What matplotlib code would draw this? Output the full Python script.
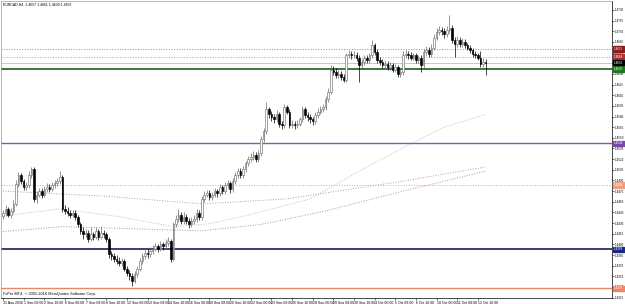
import numpy as np
import matplotlib.pyplot as plt
from matplotlib import transforms

plt.rcParams['font.family'] = ['Liberation Sans Narrow', 'Liberation Sans', 'DejaVu Sans']

# EURCAD H4 candles, 31 Aug - 12 Oct 2016
first_open = 1.4440
closes = [
    1.4444, 1.4450, 1.4442, 1.4447, 1.4457, 1.4485, 1.4498, 1.4489, 1.4481, 1.4484,
    1.4498, 1.4506, 1.4464, 1.4470, 1.4475, 1.4470, 1.4478, 1.4481, 1.4478, 1.4484,
    1.4486, 1.4489, 1.4495, 1.4450, 1.4447, 1.4444, 1.4442, 1.4444, 1.4439, 1.4428,
    1.4419, 1.4414, 1.4416, 1.4408, 1.4414, 1.4411, 1.4419, 1.4411, 1.4416, 1.4414,
    1.4408, 1.4386, 1.4383, 1.4380, 1.4377, 1.4374, 1.4377, 1.4366, 1.4360, 1.4355,
    1.4349, 1.4358, 1.4366, 1.4377, 1.4383, 1.4388, 1.4386, 1.4391, 1.4394, 1.4397,
    1.4394, 1.4400, 1.4397, 1.4402, 1.4405, 1.4380, 1.4428, 1.4436, 1.4442, 1.4433,
    1.4439, 1.4433, 1.4428, 1.4433, 1.4436, 1.4444, 1.4439, 1.4464, 1.4470, 1.4472,
    1.4467, 1.4470, 1.4475, 1.4472, 1.4481, 1.4475, 1.4484, 1.4486, 1.4478, 1.4489,
    1.4498, 1.4503, 1.4498, 1.4506, 1.4514, 1.4520, 1.4523, 1.4526, 1.4520, 1.4528,
    1.4548, 1.4559, 1.4590, 1.4584, 1.4579, 1.4576, 1.4584, 1.4570, 1.4568, 1.4593,
    1.4587, 1.4568, 1.4570, 1.4568, 1.4570, 1.4576, 1.4590, 1.4582, 1.4579, 1.4576,
    1.4573, 1.4582, 1.4587, 1.4590, 1.4593, 1.4604, 1.4615, 1.4646, 1.4643, 1.4638,
    1.4640, 1.4635, 1.4632, 1.4666, 1.4668, 1.4666, 1.4667, 1.4663, 1.4652, 1.4657,
    1.4663, 1.4660, 1.4666, 1.4680, 1.4671, 1.4660, 1.4657, 1.4652, 1.4654, 1.4649,
    1.4652, 1.4646, 1.4649, 1.4640, 1.4643, 1.4666, 1.4668, 1.4666, 1.4663, 1.4666,
    1.4660, 1.4663, 1.4652, 1.4671, 1.4674, 1.4668, 1.4677, 1.4691, 1.4699, 1.4702,
    1.4700, 1.4696, 1.4702, 1.4705, 1.4688, 1.4682, 1.4688, 1.4682, 1.4685, 1.4680,
    1.4677, 1.4674, 1.4668, 1.4666, 1.4663, 1.4654, 1.4657, 1.4656]
highs = [
    1.4449, 1.4455, 1.4453, 1.4451, 1.4462, 1.4490, 1.4502, 1.4501, 1.4492, 1.4488,
    1.4503, 1.4509, 1.4509, 1.4475, 1.4480, 1.4479, 1.4482, 1.4486, 1.4485, 1.4488,
    1.4491, 1.4494, 1.4503, 1.4498, 1.4455, 1.4452, 1.4449, 1.4449, 1.4448, 1.4442,
    1.4431, 1.4424, 1.4421, 1.4420, 1.4425, 1.4418, 1.4424, 1.4422, 1.4426, 1.4420,
    1.4418, 1.4410, 1.4391, 1.4388, 1.4385, 1.4382, 1.4381, 1.4380, 1.4370, 1.4364,
    1.4359, 1.4362, 1.4370, 1.4381, 1.4388, 1.4393, 1.4394, 1.4396, 1.4399, 1.4402,
    1.4401, 1.4405, 1.4404, 1.4407, 1.4410, 1.4408, 1.4432, 1.4442, 1.4450, 1.4446,
    1.4445, 1.4443, 1.4437, 1.4438, 1.4441, 1.4450, 1.4448, 1.4468, 1.4475, 1.4477,
    1.4476, 1.4474, 1.4480, 1.4478, 1.4485, 1.4484, 1.4488, 1.4491, 1.4489, 1.4493,
    1.4502, 1.4508, 1.4507, 1.4510, 1.4518, 1.4525, 1.4528, 1.4531, 1.4530, 1.4533,
    1.4552, 1.4564, 1.4600, 1.4594, 1.4588, 1.4583, 1.4589, 1.4587, 1.4574, 1.4597,
    1.4596, 1.4590, 1.4575, 1.4574, 1.4575, 1.4580, 1.4595, 1.4593, 1.4586, 1.4583,
    1.4580, 1.4586, 1.4592, 1.4595, 1.4598, 1.4609, 1.4620, 1.4653, 1.4651, 1.4648,
    1.4645, 1.4644, 1.4640, 1.4670, 1.4673, 1.4672, 1.4672, 1.4671, 1.4666, 1.4661,
    1.4667, 1.4667, 1.4670, 1.4688, 1.4684, 1.4675, 1.4664, 1.4661, 1.4659, 1.4658,
    1.4657, 1.4656, 1.4654, 1.4652, 1.4648, 1.4672, 1.4673, 1.4672, 1.4671, 1.4670,
    1.4669, 1.4667, 1.4667, 1.4675, 1.4679, 1.4678, 1.4682, 1.4696, 1.4704, 1.4707,
    1.4706, 1.4704, 1.4707, 1.4723, 1.4709, 1.4692, 1.4693, 1.4692, 1.4690, 1.4689,
    1.4684, 1.4681, 1.4677, 1.4672, 1.4670, 1.4672, 1.4662, 1.4661]
lows = [
    1.4436, 1.4440, 1.4438, 1.4437, 1.4444, 1.4454, 1.4481, 1.4485, 1.4477, 1.4476,
    1.4480, 1.4494, 1.4460, 1.4458, 1.4466, 1.4465, 1.4467, 1.4474, 1.4474, 1.4475,
    1.4480, 1.4482, 1.4485, 1.4446, 1.4443, 1.4440, 1.4437, 1.4438, 1.4434, 1.4424,
    1.4414, 1.4408, 1.4410, 1.4403, 1.4405, 1.4406, 1.4407, 1.4406, 1.4408, 1.4409,
    1.4403, 1.4381, 1.4378, 1.4375, 1.4372, 1.4369, 1.4370, 1.4362, 1.4355, 1.4350,
    1.4341, 1.4346, 1.4354, 1.4362, 1.4373, 1.4379, 1.4381, 1.4382, 1.4387, 1.4390,
    1.4389, 1.4390, 1.4392, 1.4393, 1.4398, 1.4375, 1.4377, 1.4424, 1.4432, 1.4428,
    1.4429, 1.4429, 1.4423, 1.4424, 1.4429, 1.4432, 1.4434, 1.4435, 1.4460, 1.4466,
    1.4462, 1.4462, 1.4466, 1.4467, 1.4468, 1.4471, 1.4471, 1.4480, 1.4473, 1.4474,
    1.4485, 1.4494, 1.4493, 1.4494, 1.4502, 1.4510, 1.4516, 1.4519, 1.4516, 1.4516,
    1.4524, 1.4544, 1.4555, 1.4578, 1.4574, 1.4571, 1.4572, 1.4565, 1.4563, 1.4564,
    1.4583, 1.4564, 1.4564, 1.4563, 1.4564, 1.4566, 1.4572, 1.4578, 1.4574, 1.4571,
    1.4568, 1.4569, 1.4578, 1.4583, 1.4586, 1.4589, 1.4600, 1.4611, 1.4638, 1.4634,
    1.4634, 1.4631, 1.4628, 1.4628, 1.4662, 1.4661, 1.4662, 1.4658, 1.4629, 1.4648,
    1.4653, 1.4656, 1.4656, 1.4662, 1.4667, 1.4656, 1.4653, 1.4648, 1.4648, 1.4645,
    1.4645, 1.4642, 1.4642, 1.4635, 1.4636, 1.4639, 1.4662, 1.4661, 1.4659, 1.4659,
    1.4656, 1.4656, 1.4643, 1.4648, 1.4667, 1.4664, 1.4664, 1.4673, 1.4687, 1.4695,
    1.4695, 1.4691, 1.4692, 1.4698, 1.4684, 1.4664, 1.4678, 1.4678, 1.4678, 1.4676,
    1.4673, 1.4670, 1.4664, 1.4662, 1.4659, 1.4650, 1.4649, 1.4639]

# moving averages, read at a few bars
ma_fast_bars = [0, 22, 45, 66, 80, 96, 119, 138, 154, 171, 187]
ma_fast = [1.4440, 1.4450, 1.4439, 1.4425, 1.4429, 1.4442, 1.4464, 1.4503, 1.4534, 1.4565, 1.4583]
ma_mid_bars = [0, 39, 77, 110, 135, 155, 187]
ma_mid = [1.4475, 1.4468, 1.4457, 1.4464, 1.4478, 1.4489, 1.4509]
ma_slow_bars = [0, 23, 50, 77, 100, 125, 155, 187]
ma_slow = [1.4418, 1.4425, 1.4422, 1.4419, 1.4428, 1.4447, 1.4475, 1.4503]

# horizontal levels
level_prices = [1.4675, 1.4664, 1.4647, 1.4542, 1.4484, 1.4393, 1.4338]
level_colors = ['#8c8c8c', '#c09a9a', '#2d6a2d', '#8857b0', '#e6a58a', '#1c1c5c', '#e8866a']
level_styles = [':', ':', '-', '-', ':', '-', '-']
level_widths = [0.7, 0.7, 1.3, 1.0, 0.7, 1.2, 1.0]
level_boxes = ['#8b1e1e', '#a83232', '#1f7a1f', '#7a4aa8', '#ee9f80', '#1e2a80', '#ee8466']

price_ticks = [1.4730, 1.4715, 1.4700, 1.4685, 1.4670, 1.4655, 1.4640, 1.4625, 1.4610,
               1.4595, 1.4580, 1.4565, 1.4550, 1.4535, 1.4520, 1.4505, 1.4490, 1.4475,
               1.4460, 1.4445, 1.4430, 1.4415, 1.4400, 1.4385, 1.4370, 1.4355, 1.4340, 1.4325]
time_labels = ['31 Aug 2016', '1 Sep 08:00', '2 Sep 16:00', '6 Sep 00:00', '7 Sep 08:00',
               '8 Sep 16:00', '12 Sep 00:00', '13 Sep 08:00', '14 Sep 16:00', '16 Sep 00:00',
               '19 Sep 08:00', '20 Sep 16:00', '22 Sep 00:00', '23 Sep 08:00', '26 Sep 16:00',
               '28 Sep 00:00', '29 Sep 08:00', '30 Sep 16:00', '4 Oct 00:00', '5 Oct 08:00',
               '6 Oct 16:00', '10 Oct 00:00', '11 Oct 08:00', '12 Oct 16:00']
time_tick_bars = [0, 8, 16, 24, 32, 40, 48, 56, 64, 72, 80, 88, 96, 104, 112, 120,
                  128, 136, 144, 152, 160, 168, 176, 184]

c = np.array(closes)
o = np.array([first_open] + closes[:-1])
h = np.maximum(np.array(highs), np.maximum(o, c))
l = np.minimum(np.array(lows), np.minimum(o, c))
x = np.arange(len(c))
up = c >= o

fs = 2.5
fsy = 2.2
fig = plt.figure(figsize=(6.25, 3.04), dpi=100)
ax = fig.add_axes([1/625, 6/304, 611/625, 297/304])

# MAs
dot = (0, (1, 1.6))
ax.plot(ma_fast_bars, ma_fast, color='#b7c2b7', lw=0.7, ls=dot, zorder=1)
ax.plot(ma_mid_bars, ma_mid, color='#c49c94', lw=0.7, ls=dot, zorder=1)
ax.plot(ma_slow_bars, ma_slow, color='#a894b8', lw=0.7, ls=dot, zorder=1)

# levels
for p, col, st, w in zip(level_prices, level_colors, level_styles, level_widths):
    ax.axhline(p, color=col, ls=st, lw=w, zorder=2)
ax.axhline(c[-1], color='#c8c8c8', lw=0.7, zorder=2)

# candles
ax.vlines(x, l, h, color=np.where(up, '#6a6a6a', 'black'), lw=0.5, zorder=3)
ax.bar(x[up], (c - o)[up], bottom=o[up], width=0.62, color='white',
       edgecolor='#707070', lw=0.45, zorder=4)
ax.bar(x[~up], (o - c)[~up], bottom=c[~up], width=0.62, color='black',
       edgecolor='black', lw=0.45, zorder=4)

ax.set_xlim(-0.78, 236.0)
ax.set_ylim(1.43245, 1.47426)

ax.yaxis.tick_right()
ax.set_yticks(price_ticks)
ax.set_yticklabels(['%.4f' % p for p in price_ticks], fontsize=fsy)
ax.set_xticks(time_tick_bars)
ax.set_xticklabels(time_labels, fontsize=fs, ha='left')
ax.tick_params(axis='both', length=1.5, width=0.4, pad=0.4, colors='black')
for s in ['left', 'top']:
    ax.spines[s].set_color('#9a9a9a')
    ax.spines[s].set_linewidth(0.5)
for s in ['right', 'bottom']:
    ax.spines[s].set_color('black')
    ax.spines[s].set_linewidth(0.5)

# price boxes on the axis
tr = transforms.blended_transform_factory(ax.transAxes, ax.transData)
boxes = list(zip(level_prices, level_boxes)) + [(c[-1], 'black')]
for p, col in boxes:
    ax.text(1.003, p, '%.4f' % p, transform=tr, fontsize=fsy, color='white',
            va='center', ha='left', clip_on=False, zorder=10,
            bbox=dict(facecolor=col, edgecolor=col, pad=0.6))

fig.text(3/625, 1 - 5/304, 'EURCAD,H4  %.4f %.4f %.4f %.4f' % (o[-1], h[-1], l[-1], c[-1]),
         fontsize=fs, va='center', ha='left')
fig.text(3/625, 1 - 294/304, 'FxPro MT4, \u00a9 2001-2016 MetaQuotes Software Corp.',
         fontsize=2.8, va='center', ha='left')

fig.savefig('out.png', dpi=100)
